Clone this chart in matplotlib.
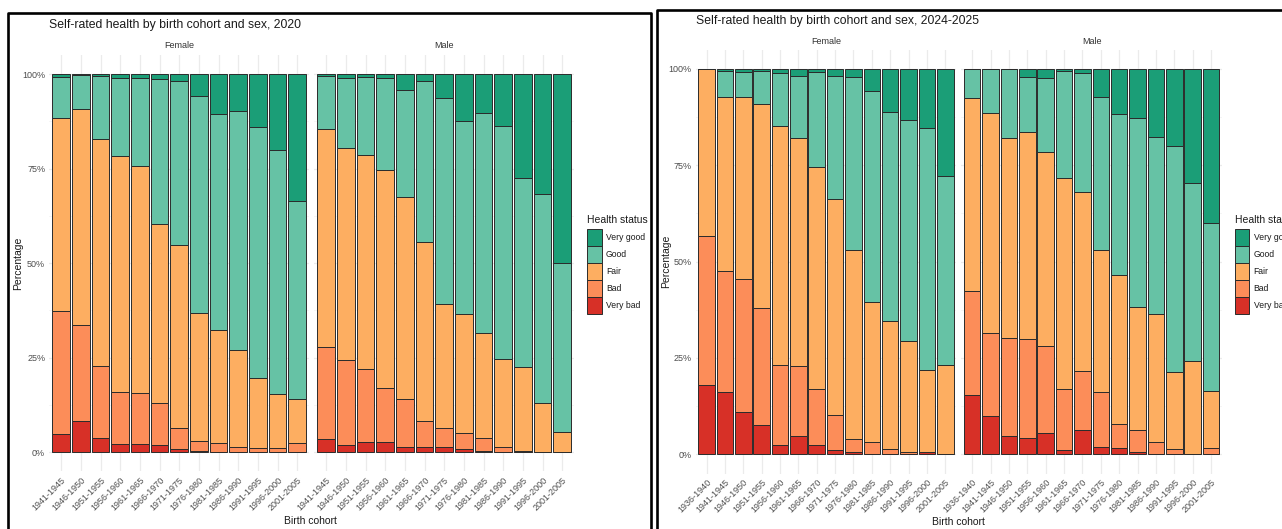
# self-rated health by birth cohort and sex - two stacked bar charts side by side
import numpy as np
import matplotlib
matplotlib.use("Agg")
import matplotlib.pyplot as plt
from matplotlib.patches import Rectangle
from matplotlib.lines import Line2D

plt.rcParams['font.family'] = ['Liberation Sans Narrow', 'Liberation Sans', 'DejaVu Sans']

W, H = 1282, 529

levels = ["Very bad", "Bad", "Fair", "Good", "Very good"]
colors = ["#d73027", "#fc8d59", "#fdae61", "#66c2a5", "#1b9e77"]

# ---- 2020 ----
cohorts_2020 = ["1941-1945", "1946-1950", "1951-1955", "1956-1960", "1961-1965",
                "1966-1970", "1971-1975", "1976-1980", "1981-1985", "1986-1990",
                "1991-1995", "1996-2000", "2001-2005"]

f20_very_bad = [4.8, 8.3, 3.7, 2.1, 2.2, 1.9, 0.8, 0.3, 0, 0, 0, 0, 0]
f20_bad = [32.6, 25.3, 19.2, 13.8, 13.4, 11.2, 5.5, 2.7, 2.4, 1.5, 1.1, 1.2, 2.4]
f20_fair = [50.9, 57.1, 59.8, 62.3, 60.2, 47.2, 48.5, 33.7, 29.8, 25.5, 18.5, 14.2, 11.6]
f20_good = [10.8, 9.1, 16.9, 20.7, 23.1, 38.3, 43.3, 57.5, 57.1, 63.2, 66.3, 64.5, 52.3]
f20_very_good = [0.9, 0.2, 0.4, 1.1, 1.1, 1.4, 1.9, 5.8, 10.7, 9.8, 14.1, 20.1, 33.7]

m20_very_bad = [3.5, 1.9, 2.6, 2.6, 1.5, 1.5, 1.3, 0.8, 0.4, 0, 0, 0, 0]
m20_bad = [24.3, 22.5, 19.4, 14.3, 12.5, 6.8, 5.0, 4.4, 3.3, 1.3, 0.4, 0, 0]
m20_fair = [57.7, 56.0, 56.6, 57.7, 53.4, 47.2, 32.8, 31.3, 27.8, 23.3, 22.1, 13.1, 5.3]
m20_good = [14.1, 18.5, 20.5, 24.3, 28.4, 42.6, 54.5, 51.2, 58.1, 61.7, 49.9, 55.1, 44.8]
m20_very_good = [0.4, 1.1, 0.9, 1.1, 4.2, 1.9, 6.4, 12.3, 10.4, 13.7, 27.6, 31.8, 49.9]

# ---- 2024-2025 ----
cohorts_2024 = ["1936-1940"] + cohorts_2020

f24_very_bad = [18.0, 16.1, 11.1, 7.6, 2.4, 4.8, 2.4, 1.1, 0.5, 0, 0, 0, 0.7, 0]
f24_bad = [38.7, 31.5, 34.5, 30.5, 20.8, 18.0, 14.5, 9.1, 3.4, 3.3, 1.3, 0.5, 0, 0]
f24_fair = [43.3, 45.0, 47.2, 52.7, 62.1, 59.2, 57.6, 56.0, 49.1, 36.1, 33.4, 28.9, 21.2, 23.2]
f24_good = [0, 7.0, 6.5, 8.7, 13.6, 16.3, 24.6, 32.1, 44.8, 54.9, 54.2, 57.4, 62.7, 48.9]
f24_very_good = [0, 0.4, 0.7, 0.5, 1.1, 1.7, 0.9, 1.7, 2.2, 5.7, 11.1, 13.2, 15.4, 27.9]

m24_very_bad = [15.4, 9.9, 4.8, 4.3, 5.6, 1.0, 6.3, 1.8, 1.6, 0.5, 0, 0, 0, 0]
m24_bad = [27.0, 21.5, 25.5, 25.5, 22.5, 15.9, 15.3, 14.3, 6.2, 5.8, 3.1, 1.3, 0, 1.7]
m24_fair = [50.0, 57.3, 51.7, 53.8, 50.3, 54.9, 46.4, 36.9, 38.7, 32.0, 33.3, 20.0, 24.2, 14.7]
m24_good = [7.6, 11.3, 18.0, 14.2, 19.2, 27.7, 30.9, 39.6, 41.7, 48.9, 45.9, 58.8, 46.1, 43.5]
m24_very_good = [0, 0, 0, 2.2, 2.4, 0.5, 1.1, 7.4, 11.8, 12.8, 17.7, 19.9, 29.7, 40.1]

GRID = "#ebebeb"
TXT = "#4d4d4d"
EDGE = "#2b2b2b"


def fx(x):
    return x / W


def fy(y):
    return 1 - y / H


def px_axes(fig, l, t, r, b):
    return fig.add_axes([fx(l), fy(b), (r - l) / W, (b - t) / H])


def draw_panel(ax, cohorts, series, show_y):
    n = len(cohorts)
    x = np.arange(n)
    bottom = np.zeros(n)
    for vals, c in zip(series, colors):
        vals = np.array(vals, dtype=float)
        ax.bar(x, vals, bottom=bottom, width=0.9, color=c, edgecolor=EDGE,
               linewidth=0.7, zorder=3)
        bottom += vals
    ax.set_xlim(-0.6, n - 0.4)
    ax.set_ylim(-5, 105)
    ax.set_xticks(x)
    ax.set_xticklabels(cohorts, rotation=45, ha="right", rotation_mode="anchor",
                       fontsize=6.5, color=TXT)
    ax.set_yticks([0, 25, 50, 75, 100])
    ax.set_yticks([12.5, 37.5, 62.5, 87.5], minor=True)
    if show_y:
        ax.set_yticklabels(["0%", "25%", "50%", "75%", "100%"], fontsize=6.5, color=TXT)
    else:
        ax.set_yticklabels([])
    ax.tick_params(axis="both", which="both", length=0, pad=3)
    ax.grid(True, which="major", color=GRID, linewidth=0.9, zorder=0)
    ax.grid(True, which="minor", axis="y", color="#f4f4f4", linewidth=0.6, zorder=0)
    for s in ax.spines.values():
        s.set_visible(False)


def draw_chart(fig, title, title_xy, cohorts, fem, mal, panel_lefts, slot, ytop, ybot,
               ylab_x, xlab_xy, legend_x):
    n = len(cohorts)
    width = (n + 0.2) * slot
    for i, (left, series, lab) in enumerate(zip(panel_lefts, [fem, mal], ["Female", "Male"])):
        ax = px_axes(fig, left, ytop, left + width, ybot)
        draw_panel(ax, cohorts, series, i == 0)
        fig.text(fx(left + width / 2), fy(title_xy[1] + 21), lab, ha="center", va="center",
                 fontsize=6.5, color="#333333")
    fig.text(fx(title_xy[0]), fy(title_xy[1]), title, ha="left", va="center",
             fontsize=8.8, color="#1a1a1a")
    fig.text(fx(ylab_x), fy((ytop + ybot) / 2), "Percentage", rotation=90,
             ha="center", va="center", fontsize=7.5, color="#1a1a1a")
    fig.text(fx(xlab_xy[0]), fy(xlab_xy[1]), "Birth cohort", ha="center", va="center",
             fontsize=7.5, color="#1a1a1a")
    # legend
    fig.text(fx(legend_x), fy(220), "Health status", ha="left", va="center",
             fontsize=7.5, color="#1a1a1a")
    key_h = 16.9
    for k, (lab, c) in enumerate(zip(levels[::-1], colors[::-1])):
        top = 229 + k * key_h
        fig.patches.append(Rectangle((fx(legend_x), fy(top + key_h)), 14.3 / W, key_h / H,
                                     transform=fig.transFigure, facecolor=c,
                                     edgecolor=EDGE, linewidth=0.7))
        fig.text(fx(legend_x + 18.5), fy(top + key_h / 2), lab, ha="left", va="center",
                 fontsize=6.2, color="#1a1a1a")


fig = plt.figure(figsize=(W / 100, H / 100), dpi=100)
fig.patch.set_facecolor("white")

draw_chart(fig, "Self-rated health by birth cohort and sex, 2020", (49, 25), cohorts_2020,
           [f20_very_bad, f20_bad, f20_fair, f20_good, f20_very_good],
           [m20_very_bad, m20_bad, m20_fair, m20_good, m20_very_good],
           [49.4, 314.4], 19.67, 55.1, 471.2, 18, (310, 521), 587.3)

draw_chart(fig, "Self-rated health by birth cohort and sex, 2024-2025", (696, 21), cohorts_2024,
           [f24_very_bad, f24_bad, f24_fair, f24_good, f24_very_good],
           [m24_very_bad, m24_bad, m24_fair, m24_good, m24_very_good],
           [695.5, 961.2], 18.37, 49.7, 473.6, 666, (958, 522), 1235)

# screenshot frames
lw = 1.9
fig.lines.append(Line2D([fx(8), fx(8), fx(651), fx(651)], [0, fy(13), fy(13), 0],
                        transform=fig.transFigure, color="black", linewidth=lw))
fig.lines.append(Line2D([fx(657), fx(657), 1], [0, fy(10), fy(10)],
                        transform=fig.transFigure, color="black", linewidth=lw))

fig.savefig("out.png", dpi=100)
